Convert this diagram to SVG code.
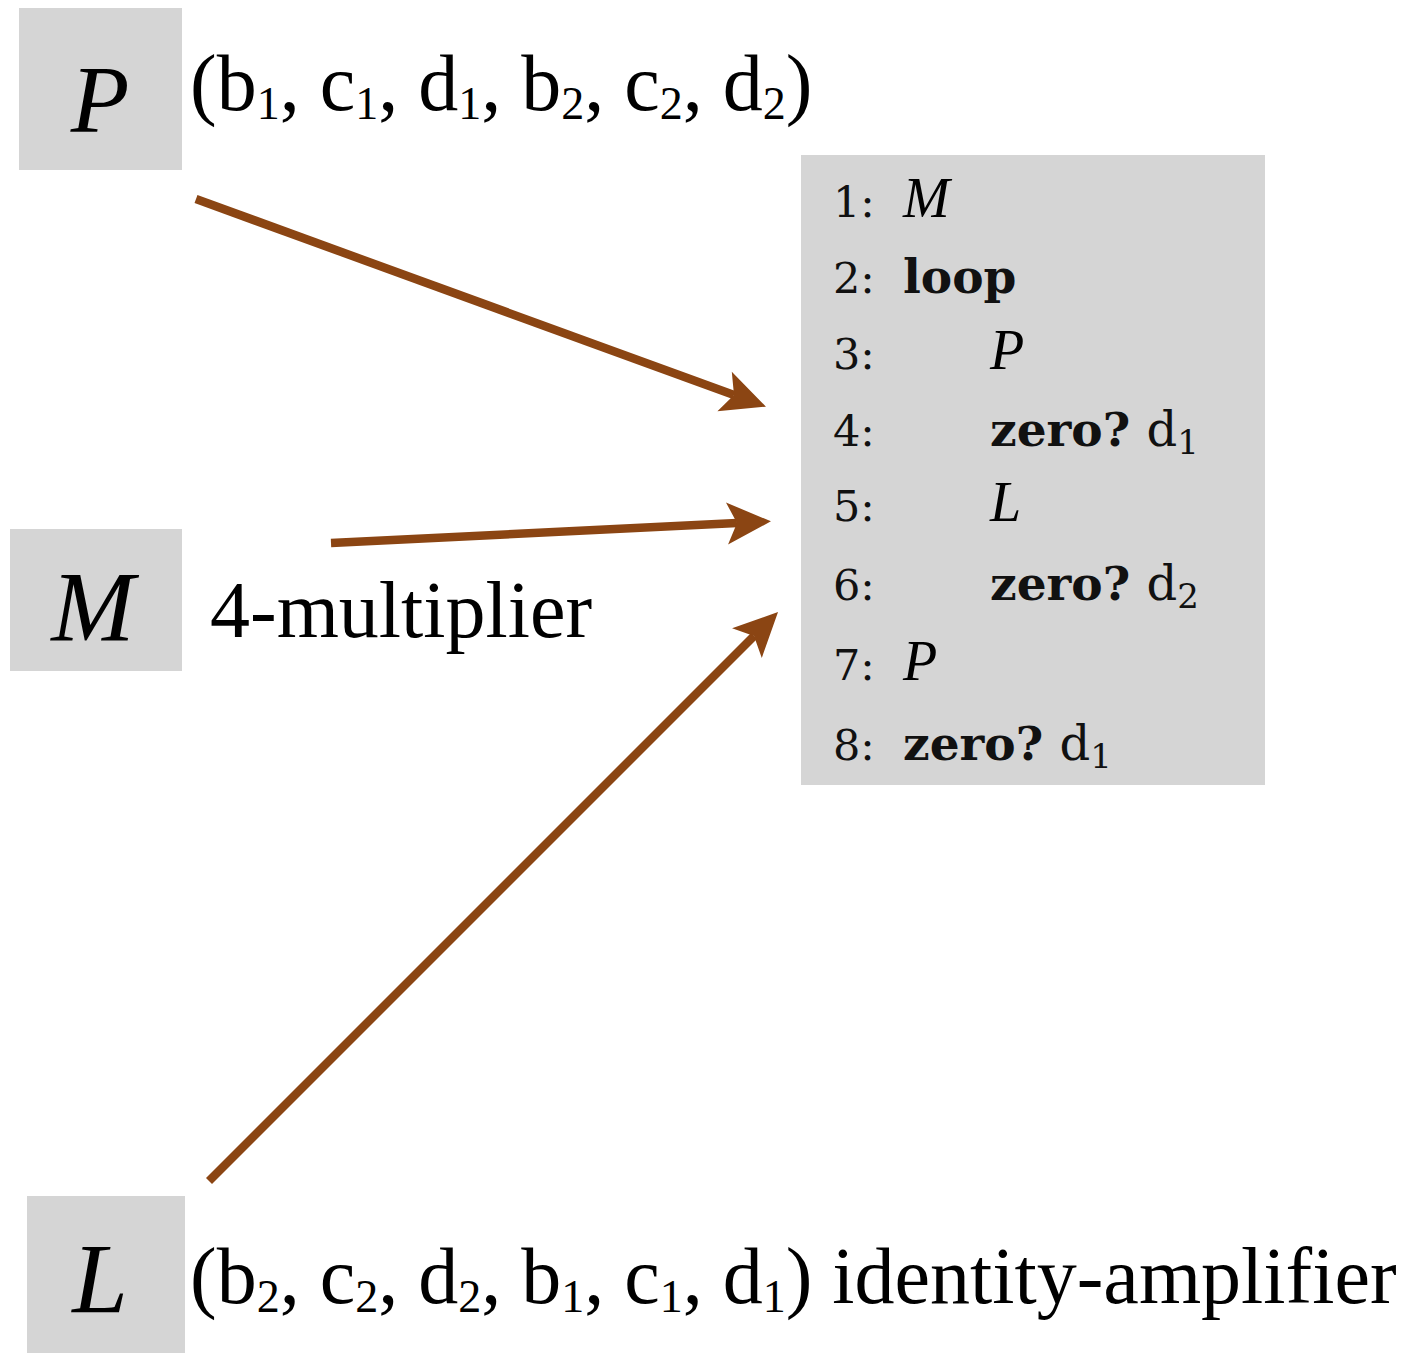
<svg xmlns="http://www.w3.org/2000/svg" width="1414" height="1353" viewBox="0 0 1414 1353">
<style>
.box{fill:#d5d5d5}
.lbl{font-family:"Liberation Serif",serif;font-size:80px;fill:#000}
.sub{font-size:46px}
.cal{font-family:"Liberation Serif",serif;font-style:italic;fill:#000}
.num{font-family:"DejaVu Serif",serif;font-size:43px;fill:#111}
.kw{font-family:"DejaVu Serif",serif;font-weight:bold;font-size:47px;fill:#111}
.var{font-family:"DejaVu Serif",serif;font-weight:normal;font-size:48px;fill:#111}
.csub{font-size:34px}
.conn{stroke:#8B4513;stroke-width:8.5;fill:none}
</style>
<defs>
<marker id="ah" markerUnits="userSpaceOnUse" markerWidth="50" markerHeight="48" viewBox="-12 -24 50 48" refX="0" refY="0" orient="auto">
<path d="M34,0 L-10,-21 L0,0 L-10,21 Z" fill="#8B4513"/>
</marker>
</defs>

<g id="node-P">
<rect class="box" x="19" y="8" width="163" height="162"/>
<text class="cal" x="100" y="132" font-size="96" text-anchor="middle">P</text>
<text class="lbl" x="190" y="110">(b<tspan class="sub" dy="9">1</tspan><tspan dy="-9">, c</tspan><tspan class="sub" dy="9">1</tspan><tspan dy="-9">, d</tspan><tspan class="sub" dy="9">1</tspan><tspan dy="-9">, b</tspan><tspan class="sub" dy="9">2</tspan><tspan dy="-9">, c</tspan><tspan class="sub" dy="9">2</tspan><tspan dy="-9">, d</tspan><tspan class="sub" dy="9">2</tspan><tspan dy="-9">)</tspan></text>
</g>

<g id="node-M">
<rect class="box" x="10" y="529" width="172" height="142"/>
<text class="cal" x="93" y="640" font-size="100" text-anchor="middle">M</text>
<text class="lbl" x="210" y="637">4-multiplier</text>
</g>

<g id="node-L">
<rect class="box" x="27" y="1196" width="158" height="157"/>
<text class="cal" x="100" y="1312" font-size="100" text-anchor="middle">L</text>
<text class="lbl" x="190" y="1303">(b<tspan class="sub" dy="9">2</tspan><tspan dy="-9">, c</tspan><tspan class="sub" dy="9">2</tspan><tspan dy="-9">, d</tspan><tspan class="sub" dy="9">2</tspan><tspan dy="-9">, b</tspan><tspan class="sub" dy="9">1</tspan><tspan dy="-9">, c</tspan><tspan class="sub" dy="9">1</tspan><tspan dy="-9">, d</tspan><tspan class="sub" dy="9">1</tspan><tspan dy="-9">) identity-amplifier</tspan></text>
</g>

<g id="node-program">
<rect class="box" x="801" y="155" width="464" height="630"/>
<text class="num" x="833" y="217">1:</text>
<text class="cal" x="903" y="217" font-size="56">M</text>
<text class="num" x="833" y="293">2:</text>
<text class="kw" x="903" y="293">loop</text>
<text class="num" x="833" y="369">3:</text>
<text class="cal" x="990" y="369" font-size="56">P</text>
<text class="num" x="833" y="446">4:</text>
<text class="kw" x="990" y="446">zero? <tspan class="var">d</tspan><tspan class="var csub" dy="8">1</tspan></text>
<text class="num" x="833" y="521">5:</text>
<text class="cal" x="990" y="521" font-size="56">L</text>
<text class="num" x="833" y="600">6:</text>
<text class="kw" x="990" y="600">zero? <tspan class="var">d</tspan><tspan class="var csub" dy="8">2</tspan></text>
<text class="num" x="833" y="680">7:</text>
<text class="cal" x="903" y="680" font-size="56">P</text>
<text class="num" x="833" y="760">8:</text>
<text class="kw" x="903" y="760">zero? <tspan class="var">d</tspan><tspan class="var csub" dy="8">1</tspan></text>
</g>

<g id="connectors">
<line class="conn" x1="196" y1="199" x2="734" y2="395" marker-end="url(#ah)"/>
<line class="conn" x1="331" y1="543" x2="737" y2="523" marker-end="url(#ah)"/>
<line class="conn" x1="209" y1="1181" x2="754" y2="636" marker-end="url(#ah)"/>
</g>
</svg>
